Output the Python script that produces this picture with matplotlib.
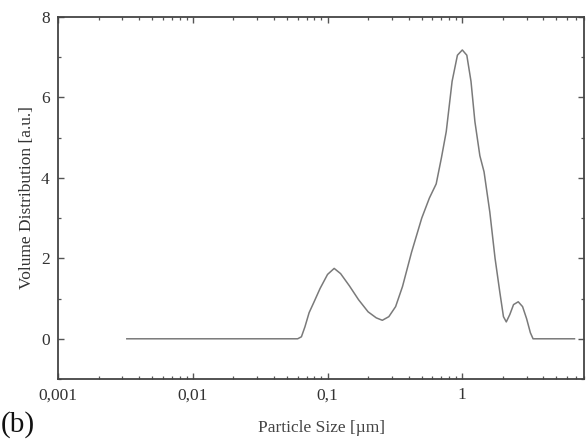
import matplotlib
matplotlib.use("Agg")
import matplotlib.pyplot as plt
from matplotlib.ticker import FixedLocator, LogLocator, NullFormatter, MultipleLocator

# particle size [um] and volume distribution [a.u.]
size_um = [0.00324, 0.0600, 0.0640, 0.0680, 0.0730, 0.0790, 0.0880, 0.100,
           0.112, 0.125, 0.145, 0.170, 0.200, 0.230, 0.255, 0.285, 0.320,
           0.360, 0.420, 0.500, 0.570, 0.640, 0.700, 0.760, 0.840, 0.920,
           1.000, 1.080, 1.160, 1.240, 1.350, 1.450, 1.600, 1.750, 1.900,
           2.020, 2.120, 2.250, 2.400, 2.600, 2.800, 3.000, 3.200, 3.350,
           6.800]
volume = [0.0, 0.0, 0.05, 0.3, 0.65, 0.9, 1.25, 1.6,
          1.75, 1.62, 1.32, 0.97, 0.67, 0.52, 0.46, 0.55, 0.8,
          1.3, 2.15, 3.0, 3.5, 3.85, 4.5, 5.15, 6.4, 7.05,
          7.18, 7.05, 6.4, 5.4, 4.55, 4.15, 3.15, 2.0, 1.15,
          0.55, 0.42, 0.6, 0.85, 0.92, 0.8, 0.5, 0.15, 0.0,
          0.0]

x_ticks = [0.001, 0.01, 0.1, 1]
x_tick_labels = ["0,001", "0,01", "0,1", "1"]
y_ticks = [0, 2, 4, 6, 8]

plt.rcParams["font.family"] = ["Liberation Serif", "DejaVu Serif"]

fig = plt.figure(figsize=(5.86, 4.40), dpi=100)
ax = fig.add_axes([0.099, 0.1386, 0.8976, 0.8228])

ax.plot(size_um, volume, color="#7a7a7a", lw=1.1)

ax.set_xscale("log")
ax.set_xlim(0.001, 8)
ax.set_ylim(-1, 8)

ax.xaxis.set_major_locator(FixedLocator(x_ticks))
ax.set_xticklabels(x_tick_labels)
ax.xaxis.set_minor_locator(LogLocator(base=10, subs=range(2, 10)))
ax.xaxis.set_minor_formatter(NullFormatter())
ax.yaxis.set_major_locator(FixedLocator(y_ticks))
ax.yaxis.set_minor_locator(MultipleLocator(1))

ax.tick_params(which="both", direction="in", top=True, right=True,
               colors="#555555", labelcolor="#333333", labelsize=12.5)
ax.tick_params(which="major", length=4, width=1.0, pad=6)
ax.tick_params(which="minor", length=2.5, width=0.9)

for s in ax.spines.values():
    s.set_color("#444444")
    s.set_linewidth(1.3)

ax.set_xlabel("Particle Size [µm]", fontsize=12.5, color="#444444", labelpad=12)
ax.set_ylabel("Volume Distribution [a.u.]", fontsize=12.5, color="#333333", labelpad=4)
fig.text(0.002, 0.004, "(b)", fontsize=21, color="#111111", ha="left", va="bottom")

fig.savefig("out.png", dpi=100, facecolor="white")
